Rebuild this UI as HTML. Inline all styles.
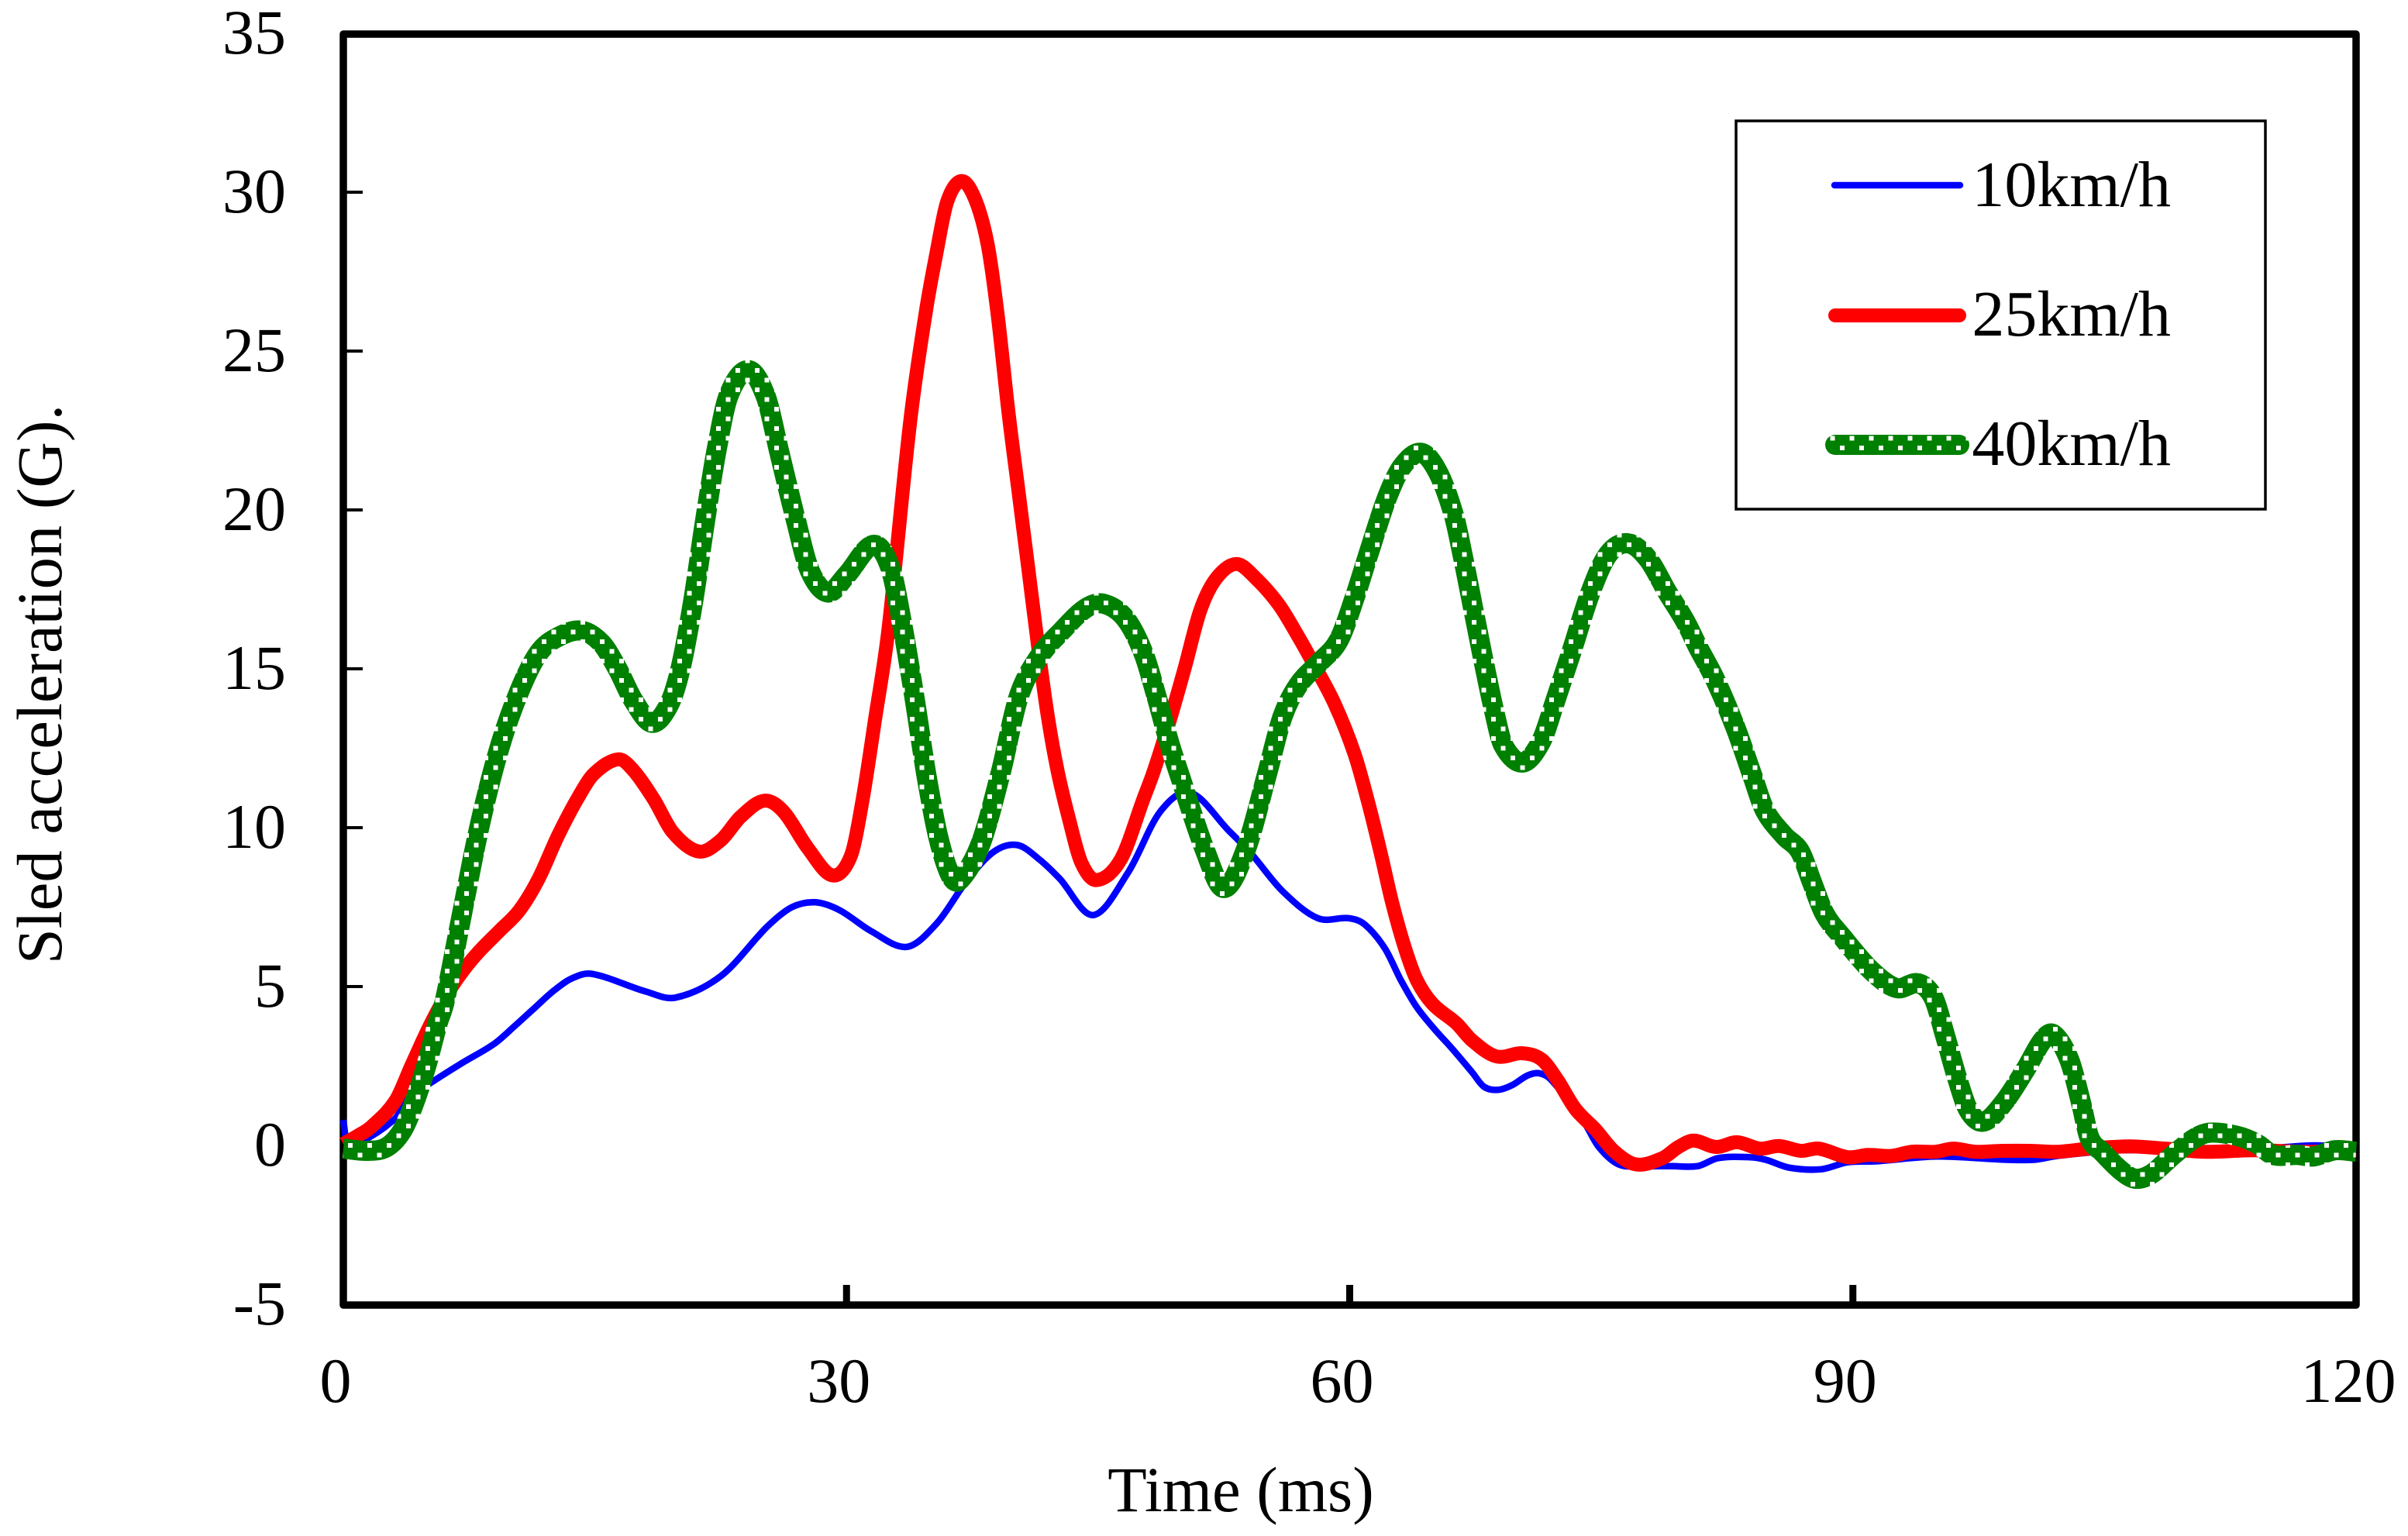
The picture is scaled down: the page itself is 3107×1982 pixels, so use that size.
<!DOCTYPE html>
<html lang="en">
<head>
<meta charset="utf-8">
<title>Sled acceleration chart</title>
<style>
html,body{margin:0;padding:0;background:#fff;}
svg{display:block;}
text{font-family:"Liberation Serif",serif;font-size:82px;fill:#000;}
text.legend-text{font-size:84px;}
text.axis-title{font-size:82.6px;}
</style>
</head>
<body>
<svg id="chart" xmlns="http://www.w3.org/2000/svg" width="3107" height="1982" viewBox="0 0 3107 1982">
  <defs>
    <pattern id="green-dots" patternUnits="userSpaceOnUse" x="-1" y="0" width="25" height="25">
      <rect x="0" y="0" width="25" height="25" fill="#008000" shape-rendering="crispEdges"/>
      <rect x="0" y="0" width="6" height="6" fill="#fff" shape-rendering="crispEdges"/>
      <rect x="12.5" y="12.5" width="6" height="6" fill="#fff" shape-rendering="crispEdges"/>
    </pattern>
  </defs>
  <rect x="443" y="44" width="2597" height="1640" fill="#fff" stroke="#000" stroke-width="9.5" stroke-linejoin="round"/>
  <g id="ticks"></g>
  <g id="tick-labels"></g>
  <g id="series"></g>
  <text class="axis-title" x="1601" y="1950" text-anchor="middle">Time (ms)</text>
  <text class="axis-title" transform="translate(79 883) rotate(-90)" text-anchor="middle">Sled acceleration (G).</text>
  <g>
    <rect x="2240" y="156" width="683" height="501" fill="#fff" stroke="#000" stroke-width="3.5"/>
    <line x1="2367" y1="239" x2="2529" y2="239" stroke="#0000ff" stroke-width="8.5" stroke-linecap="round"/>
    <text class="legend-text" x="2801" y="266" text-anchor="end">10km/h</text>
    <line x1="2368" y1="407" x2="2528" y2="407" stroke="#ff0000" stroke-width="18" stroke-linecap="round"/>
    <text class="legend-text" x="2801" y="433" text-anchor="end">25km/h</text>
    <line x1="2368" y1="574" x2="2528" y2="574" stroke="url(#green-dots)" stroke-width="26" stroke-linecap="round"/>
    <text class="legend-text" x="2801" y="600" text-anchor="end">40km/h</text>
  </g>
</svg>
<script>
const xTickValues = [0, 30, 60, 90, 120];
const yTickValues = [-5, 0, 5, 10, 15, 20, 25, 30, 35];

const blueTime = [0,0.2,1,3.1,3.8,5.45,7.1,9,10.2,11.35,12.5,13.6,14.8,18,19.8,22.55,25.3,26.75,28.15,29.6,31.45,33.6,35.4,37.2,38.8,40.2,41.5,42.7,44.7,46.8,48.7,50.5,52.8,54.1,56,58.1,59.95,60.9,62.1,63.05,64,65.15,66.1,67.3,68,68.85,69.7,70.6,71.3,72,73.95,74.85,76.05,77.45,79.1,80.75,81.95,83.85,84.8,86.2,88.1,89.7,91.35,95,99.15,100.8,102.2,106,112,117.5,120];
const blueValues = [0.8,0.1,0.1,0.85,1.45,2.05,2.6,3.2,3.75,4.3,4.85,5.25,5.4,4.85,4.65,5.35,6.9,7.5,7.65,7.4,6.75,6.25,7.0,8.35,9.25,9.45,9.0,8.4,7.25,8.6,10.5,11.1,9.9,9.2,8.0,7.15,7.15,6.95,6.2,5.2,4.35,3.6,3.05,2.3,1.85,1.75,1.9,2.2,2.27,2.07,0.75,-0.05,-0.6,-0.65,-0.65,-0.65,-0.4,-0.37,-0.45,-0.7,-0.75,-0.53,-0.5,-0.35,-0.45,-0.45,-0.33,-0.15,-0.2,0,-0.1];

const redTime = [0,0.85,1.7,3.1,4.05,5,6,7,8,9.3,10.5,11.65,12.8,14,14.95,16.4,17.3,18.5,19.65,21.2,22.5,23.7,25.1,26.25,27.7,29.15,30.25,30.95,31.7,32.5,33.8,34.75,35.35,36,36.85,37.65,38.4,39,39.65,40.25,40.85,41.45,42,42.6,43.3,44,44.9,46.35,47.7,48.3,49.2,50.15,51.1,52.05,53.25,54.4,55.8,56.95,57.9,59.1,60.3,61.15,61.85,62.55,63.3,64,64.95,66.35,67.3,68.75,70.3,71.45,72.4,73.45,74.65,75.8,77.1,78.65,79.6,80.5,81.85,83.1,84.45,85.6,86.9,87.95,89.7,90.9,92.3,93.5,94.9,96,97.3,98.9,100.6,102.2,104.1,106.5,108.6,111,113.9,117,120];
const redValues = [0.05,0.3,0.6,1.4,2.5,3.6,4.6,5.4,6.05,6.75,7.4,8.4,9.75,10.95,11.7,12.15,11.8,10.9,9.85,9.25,9.6,10.35,10.85,10.5,9.35,8.5,9.1,10.85,13.4,16.25,22.8,26.3,28.05,29.7,30.35,29.8,28.4,26.2,23.1,20.6,18.1,15.6,13.5,11.75,10.2,8.9,8.35,9.0,10.9,11.75,13.25,15,16.85,17.85,18.3,17.85,17,16,15.1,13.9,12.3,10.7,9.2,7.6,6.2,5.2,4.45,3.85,3.3,2.8,2.9,2.7,2.05,1.15,0.5,-0.2,-0.6,-0.4,-0.05,0.15,-0.05,0.1,-0.1,-0.02,-0.17,-0.1,-0.37,-0.3,-0.33,-0.2,-0.2,-0.1,-0.2,-0.17,-0.17,-0.2,-0.1,-0.03,-0.1,-0.2,-0.15,-0.2,-0.15];

const greenTime = [0,1.45,2.6,3.55,4.3,5,5.6,6.05,6.93,8.1,9.3,10.5,11.65,12.8,14.2,15.4,16.35,17.3,18.4,19.4,20.1,20.85,21.55,22.26,22.97,24.15,25.2,26,26.97,27.8,28.9,30,31.6,32.6,33.3,34.05,34.75,35.45,36.2,36.75,38,39.2,40.25,41.45,42.85,44.25,45.3,46.6,47.7,48.5,49.2,49.8,51.4,52.5,53.8,55.1,56,56.95,58.2,59.35,60.3,61.2,62.2,63.1,64.25,65.25,66.2,66.8,67.4,68,68.6,69.15,70.3,71.4,72.2,73.2,74.35,75.4,76.6,77.8,78.95,80,80.8,81.8,83,84,84.75,85.9,86.85,87.55,88.3,89.3,91.1,92.6,93.9,94.8,95.5,96.2,96.9,97.8,99,100.3,101.3,101.95,102.9,103.6,104.1,104.85,106,106.85,107.8,109,110.3,111.25,112.9,114.1,115.05,116.5,117.45,118.75,120];
const greenValues = [-0.1,-0.17,-0.05,0.5,1.45,2.6,3.8,4.55,6.9,10,12.5,14.3,15.5,16,16.2,15.8,15,14,13.3,13.85,15,17.1,19.6,21.9,23.6,24.4,23.55,21.8,19.7,18.1,17.4,17.95,18.9,18.2,16.45,14.1,11.7,9.75,8.5,8.35,9.5,11.75,14.1,15.35,16.2,16.9,17.05,16.6,15.5,14.1,12.75,11.75,9.25,8.1,9.3,11.75,13.5,14.5,15.2,15.9,17.25,18.75,20.35,21.35,21.8,21.2,19.85,18.4,16.8,15.2,13.7,12.6,12.05,12.7,13.9,15.5,17.4,18.6,18.95,18.45,17.4,16.5,15.65,14.65,13.15,11.65,10.55,9.75,9.25,8.3,7.3,6.6,5.5,4.95,5.1,4.65,3.45,2.15,1.1,0.75,1.35,2.4,3.3,3.5,2.7,1.35,0.25,-0.2,-0.8,-1.05,-0.9,-0.35,0.2,0.4,0.3,0.05,-0.3,-0.3,-0.35,-0.15,-0.2];

const svgNS = 'http://www.w3.org/2000/svg';

function xScale(t) {
  return 443 + (t - 0) * (3040 - 443) / 120;
}
function yScale(v) {
  return 1478 - v * 41;
}

function smoothPath(times, values) {
  const px = times.map(xScale);
  const py = values.map(yScale);
  const n = px.length;
  const slope = [];
  for (let i = 0; i < n; i++) {
    const a = Math.max(0, i - 1);
    const b = Math.min(n - 1, i + 1);
    slope.push((py[b] - py[a]) / (px[b] - px[a]));
  }
  let d = 'M' + px[0].toFixed(1) + ' ' + py[0].toFixed(1);
  for (let i = 0; i < n - 1; i++) {
    const dx = (px[i + 1] - px[i]) / 3;
    d += ' C' + (px[i] + dx).toFixed(1) + ' ' + (py[i] + slope[i] * dx).toFixed(1) +
         ' ' + (px[i + 1] - dx).toFixed(1) + ' ' + (py[i + 1] - slope[i + 1] * dx).toFixed(1) +
         ' ' + px[i + 1].toFixed(1) + ' ' + py[i + 1].toFixed(1);
  }
  return d;
}

const tickGroup = document.getElementById('ticks');
const labelGroup = document.getElementById('tick-labels');
const seriesGroup = document.getElementById('series');

xTickValues.forEach(function (t) {
  if (t > 0 && t < 120) {
    const tick = document.createElementNS(svgNS, 'line');
    
    
    tick.setAttribute('x1', xScale(t));
    tick.setAttribute('x2', xScale(t));
    tick.setAttribute('y1', yScale(-5));
    tick.setAttribute('y2', yScale(-5) - 25);
    tick.setAttribute('stroke', '#000');
    tick.setAttribute('stroke-width', '9');
    tickGroup.appendChild(tick);
  }
  const label = document.createElementNS(svgNS, 'text');
  
  
  label.setAttribute('x', xScale(t) - 10);
  label.setAttribute('y', 1809);
  label.setAttribute('text-anchor', 'middle');
  label.textContent = String(t);
  labelGroup.appendChild(label);
});

yTickValues.forEach(function (v) {
  if (v > -5 && v < 35) {
    const tick = document.createElementNS(svgNS, 'line');
    
    
    tick.setAttribute('x1', 443);
    tick.setAttribute('x2', 468);
    tick.setAttribute('y1', yScale(v));
    tick.setAttribute('y2', yScale(v));
    tick.setAttribute('stroke', '#000');
    tick.setAttribute('stroke-width', '4');
    tickGroup.appendChild(tick);
  }
  const label = document.createElementNS(svgNS, 'text');
  
  
  label.setAttribute('x', 369);
  label.setAttribute('y', yScale(v) + 26);
  label.setAttribute('text-anchor', 'end');
  label.textContent = String(v);
  labelGroup.appendChild(label);
});

const bluePath = document.createElementNS(svgNS, 'path');


bluePath.setAttribute('d', smoothPath(blueTime, blueValues));
bluePath.setAttribute('fill', 'none');
bluePath.setAttribute('stroke', '#0000ff');
bluePath.setAttribute('stroke-width', '8.5');
bluePath.setAttribute('stroke-linejoin', 'round');
seriesGroup.appendChild(bluePath);

const redPath = document.createElementNS(svgNS, 'path');


redPath.setAttribute('d', smoothPath(redTime, redValues));
redPath.setAttribute('fill', 'none');
redPath.setAttribute('stroke', '#ff0000');
redPath.setAttribute('stroke-width', '18');
redPath.setAttribute('stroke-linejoin', 'round');
seriesGroup.appendChild(redPath);

const greenPath = document.createElementNS(svgNS, 'path');


greenPath.setAttribute('d', smoothPath(greenTime, greenValues));
greenPath.setAttribute('fill', 'none');
greenPath.setAttribute('stroke', 'url(#green-dots)');
greenPath.setAttribute('stroke-width', '26');
greenPath.setAttribute('stroke-linejoin', 'round');
seriesGroup.appendChild(greenPath);
</script>
</body>
</html>
